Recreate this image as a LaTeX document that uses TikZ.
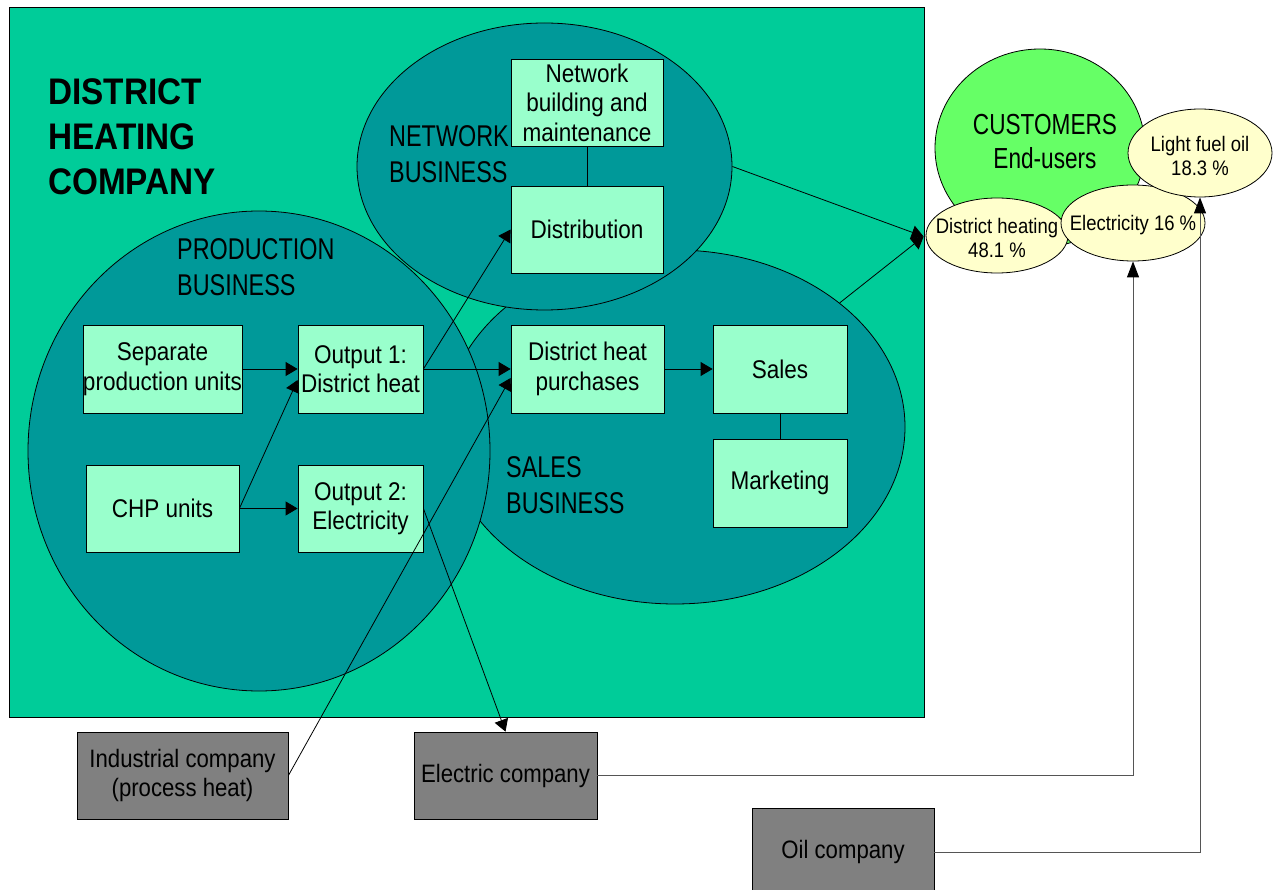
\documentclass[tikz,border=0pt]{standalone}
\usepackage{fontspec}
\setmainfont{Liberation Sans}
\newfontfamily\boxfont[FakeStretch=0.88]{Liberation Sans}
\newfontfamily\headfont[FakeStretch=0.78]{Liberation Sans}
\newfontfamily\titlefont[FakeStretch=0.9]{Liberation Sans}
\usetikzlibrary{arrows.meta,shapes.geometric,calc}
\definecolor{dhcbg}{HTML}{00CC99}
\definecolor{bizfill}{HTML}{009999}
\definecolor{boxfill}{HTML}{99FFCC}
\definecolor{custfill}{HTML}{66FF66}
\definecolor{pctfill}{HTML}{FFFFCC}
\definecolor{extfill}{HTML}{808080}
\definecolor{feedline}{HTML}{555555}
\tikzset{
  boxnode/.style={rectangle, draw=black, line width=0.8pt, fill=boxfill, inner sep=0pt, align=center,
    font=\boxfont\fontsize{25.6}{29.5}\selectfont},
  extnode/.style={rectangle, draw=black, line width=0.8pt, fill=extfill, inner sep=0pt, align=center,
    font=\boxfont\fontsize{25.2}{29.5}\selectfont},
  bizell/.style={ellipse, draw=black, line width=0.8pt, fill=bizfill, inner sep=0pt},
  pctell/.style={ellipse, draw=black, line width=0.8pt, fill=pctfill, inner sep=0pt},
  pcttext/.style={inner sep=0pt, align=center, font=\boxfont\fontsize{21}{24.5}\selectfont},
  headtext/.style={inner sep=0pt, align=left, anchor=west, font=\headfont\fontsize{30}{35.5}\selectfont},
  conn/.style={draw=black, line width=0.8pt},
  arr/.style={conn, -{Triangle[length=12pt,width=14pt]}},
  arrv/.style={draw=feedline, line width=1pt, -{Triangle[length=16pt,width=12pt,color=black]}},
}
\begin{document}
\begin{tikzpicture}[x=1pt,y=-1pt]
\useasboundingbox (0,0) rectangle (1277,890);
\fill[white] (0,0) rectangle (1277,890);

% company background
\draw[fill=dhcbg, draw=black, line width=0.8pt] (9,7) rectangle (924,717);

% business ellipses
\node[bizell, minimum width=460pt, minimum height=354pt] (salesE) at (675,427) {};
\node[bizell, minimum width=462pt, minimum height=480pt] (prodE) at (259,451) {};
\node[bizell, minimum width=375pt, minimum height=287pt] (netE) at (544.5,166.5) {};

% titles
\node[inner sep=0pt, align=left, anchor=west, font=\titlefont\bfseries\fontsize{37}{45}\selectfont] (title) at (48,137) {DISTRICT\\HEATING\\COMPANY};
\node[headtext] (prodT) at (177,267) {PRODUCTION\\BUSINESS};
\node[headtext] (netT) at (389,154) {NETWORK\\BUSINESS};
\node[headtext] (salesT) at (506,485) {SALES\\BUSINESS};

% boxes
\node[boxnode, minimum width=153pt, minimum height=88pt] (sep) at (162.5,369) {Separate\\production units};
\node[boxnode, minimum width=153pt, minimum height=87pt] (chp) at (162.5,508.5) {CHP units};
\node[boxnode, minimum width=125pt, minimum height=88pt] (out1) at (360.5,369) {Output 1:\\District heat};
\node[boxnode, minimum width=125pt, minimum height=87pt] (out2) at (360.5,508.5) {Output 2:\\Electricity};
\node[boxnode, minimum width=153pt, minimum height=88pt] (dhp) at (587.5,369) {District heat\\purchases};
\node[boxnode, minimum width=134pt, minimum height=88pt] (salesb) at (780,369) {Sales};
\node[boxnode, minimum width=134pt, minimum height=88pt] (mkt) at (780,483) {Marketing};
\node[boxnode, minimum width=152pt, minimum height=87pt] (netb) at (587,102.5) {Network\\building and\\maintenance};
\node[boxnode, minimum width=152pt, minimum height=87pt] (dist) at (587,229.5) {Distribution};

% external companies
\node[extnode, minimum width=211pt, minimum height=87pt] (ind) at (182.5,775.5) {Industrial company\\(process heat)};
\node[extnode, minimum width=183pt, minimum height=87pt] (elec) at (505.5,775.5) {Electric company};
\node[extnode, minimum width=182pt, minimum height=88pt] (oil) at (843,852) {Oil company};

% customers
\node[ellipse, draw=black, line width=0.8pt, fill=custfill, minimum width=210pt, minimum height=198pt, inner sep=0pt] (cust) at (1040,148) {};
\node[inner sep=0pt, align=center, font=\headfont\fontsize{29}{34}\selectfont] (custT) at (1045,142) {CUSTOMERS\\End-users};
\node[pctell, minimum width=142pt, minimum height=75pt] (dh) at (997,235.5) {};
\node[pcttext] (dhT) at (997,238) {District heating\\48.1 \%};
\node[pctell, minimum width=144pt, minimum height=76pt] (el) at (1133,223) {};
\node[pcttext] (elT) at (1133,225) {Electricity 16 \%};
\node[pctell, minimum width=144pt, minimum height=88pt] (lfo) at (1200,153) {};
\node[pcttext] (lfoT) at (1200,156) {Light fuel oil\\18.3 \%};

% connectors
\draw[conn] (netb.south) -- (dist.north);
\draw[conn] (salesb.south) -- (mkt.north);
\draw[arr] (sep.east) -- (out1.west);
\draw[arr] (chp.east) -- ([yshift=-11pt]out1.west);
\draw[arr] (chp.east) -- (out2.west);
\draw[arr] (out1.east) -- (dhp.west);
\draw[arr] (out1.east) -- (dist.west);
\draw[arr] (ind.east) -- ([yshift=-9pt]dhp.west);
\draw[arr] (out2.east) -- (elec.north);
\draw[arr] (dhp.east) -- (salesb.west);
\draw[arr] (netE.east) -- ([xshift=-2pt,yshift=-1pt]dh.west);
\draw[arr] (salesE.37) -- ([xshift=-2pt,yshift=-1pt]dh.west);
\draw[arrv] (elec.east) -| (el.south);
\draw[arrv] (oil.east) -| (lfo.south);
\end{tikzpicture}
\end{document}
